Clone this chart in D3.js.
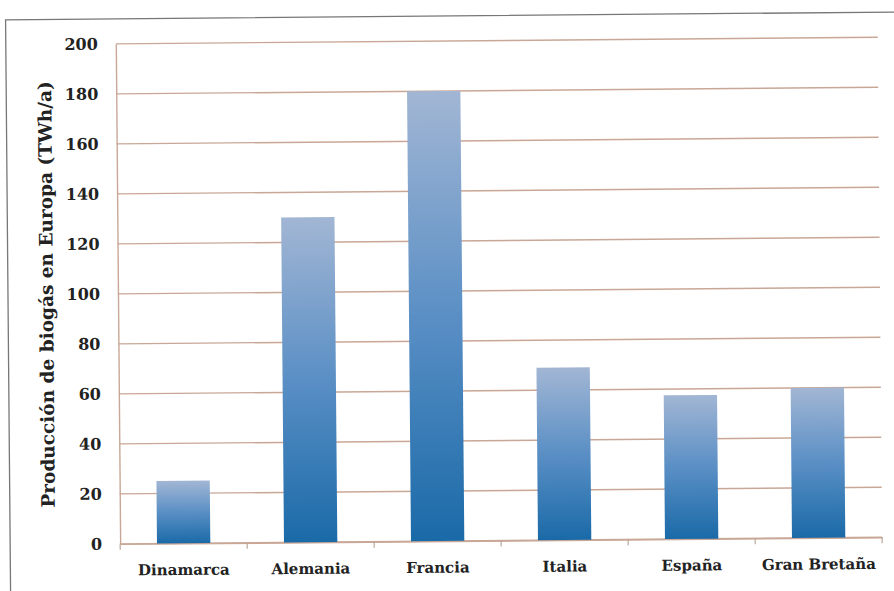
<!DOCTYPE html>
<html>
<head>
<meta charset="utf-8">
<script src="https://cdn.jsdelivr.net/npm/d3@7"></script>
<style>
  body { margin: 0; background: #fff; }
  text { font-family: "DejaVu Serif", "Liberation Serif", serif; font-weight: bold; fill: #222; }
</style>
</head>
<body>
<svg id="chart" width="894" height="591"></svg>
<script>
// data
const countries = ['Dinamarca', 'Alemania', 'Francia', 'Italia', 'España', 'Gran Bretaña'];
const biogas_twh = [25, 130, 180, 69, 57.5, 60];
const y_ticks = [0, 20, 40, 60, 80, 100, 120, 140, 160, 180, 200];

const margin = {left: 118, right: 14, top: 41, bottom: 50};
const W = 894, H = 591;

let svg = d3.select('#chart');

// the scan is tilted a little
let root = svg.append('g')
    .attr('transform', 'rotate(-0.5 ' + W / 2 + ' ' + H / 2 + ')');

// outer frame of the scanned figure
root.append('rect')
    .attr('x', 8).attr('y', 16)
    .attr('width', W + 20).attr('height', H + 20)
    .attr('fill', 'none')
    .attr('stroke', '#777')
    .attr('stroke-width', 1.3);

let defs = svg.append('defs');
let grad = defs.append('linearGradient')
    .attr('id', 'barGrad')
    .attr('x1', 0).attr('y1', 0).attr('x2', 0).attr('y2', 1);
grad.append('stop').attr('offset', '0%').attr('stop-color', '#a2b6d4');
grad.append('stop').attr('offset', '50%').attr('stop-color', '#5a8fc5');
grad.append('stop').attr('offset', '100%').attr('stop-color', '#1a6aa8');

let x = d3.scaleBand()
    .domain(countries)
    .range([margin.left, W - margin.right])
    .paddingInner(0.58)
    .paddingOuter(0.29);

let y = d3.scaleLinear()
    .domain([0, 200])
    .range([H - margin.bottom, margin.top]);

// grid lines
root.append('g')
    .selectAll('line')
    .data(y_ticks)
    .enter().append('line')
    .attr('x1', margin.left)
    .attr('x2', W - margin.right)
    .attr('y1', d => y(d))
    .attr('y2', d => y(d))
    .attr('stroke', '#c9a796')
    .attr('stroke-width', 1.4);

// y axis
let yAxis = root.append('g')
    .attr('transform', 'translate(' + margin.left + ',0)')
    .call(d3.axisLeft(y).tickValues(y_ticks).tickSize(0).tickPadding(18));
yAxis.select('.domain').attr('stroke', '#c9a796').attr('stroke-width', 1.4);
yAxis.selectAll('text').style('font-size', '16px').attr('fill', '#222');

// x axis, ticks sit on the category boundaries
let xAxis = root.append('g')
    .attr('transform', 'translate(0,' + y(0) + ')')
    .call(d3.axisBottom(x).tickSize(0).tickPadding(21));
xAxis.select('.domain').attr('stroke', '#c9a796').attr('stroke-width', 1.4);
xAxis.selectAll('text').style('font-size', '15px').attr('fill', '#222');

let boundaries = d3.range(countries.length + 1).map(i => margin.left + i * (W - margin.right - margin.left) / countries.length);
root.append('g')
    .selectAll('line')
    .data(boundaries)
    .enter().append('line')
    .attr('x1', d => d).attr('x2', d => d)
    .attr('y1', y(0)).attr('y2', y(0) + 6)
    .attr('stroke', '#b9a89c')
    .attr('stroke-width', 1.2);

// bars
root.append('g')
    .selectAll('rect')
    .data(countries)
    .enter().append('rect')
    .attr('x', d => x(d))
    .attr('width', x.bandwidth())
    .attr('y', (d, i) => y(biogas_twh[i]))
    .attr('height', (d, i) => y(0) - y(biogas_twh[i]))
    .attr('fill', 'url(#barGrad)');

// y title
root.append('text')
    .attr('transform', 'translate(53,' + ((margin.top + H - margin.bottom) / 2) + ') rotate(-90)')
    .attr('text-anchor', 'middle')
    .style('font-size', '18.5px')
    .text('Producción de biogás en Europa (TWh/a)');
</script>
</body>
</html>
